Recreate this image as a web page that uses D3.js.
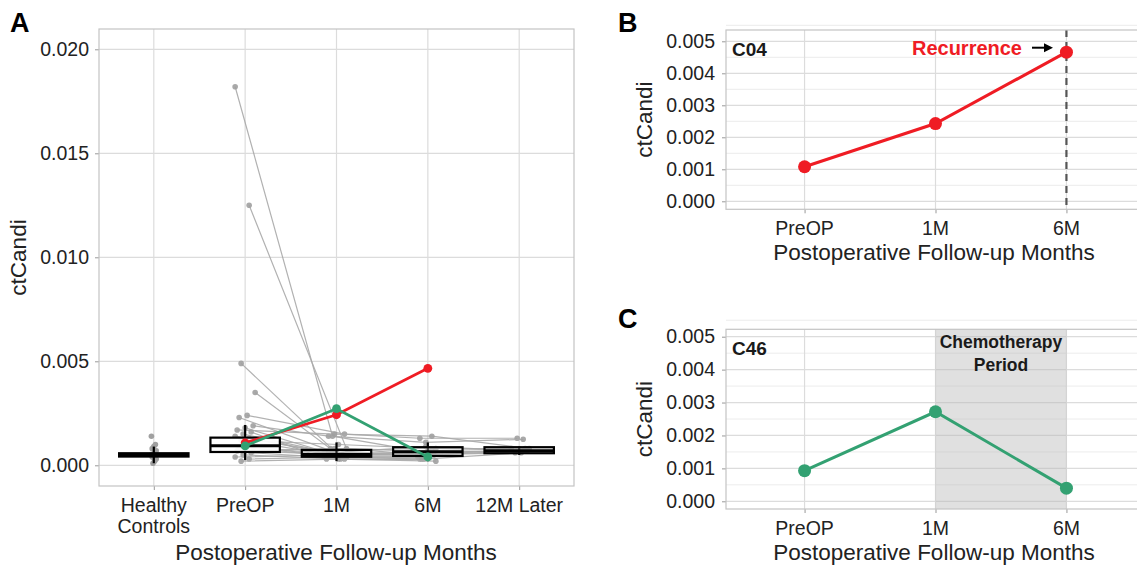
<!DOCTYPE html>
<html><head><meta charset="utf-8">
<script src="https://cdn.jsdelivr.net/npm/d3@7"></script>
<style>
body{margin:0;background:#fff;}
svg{display:block;font-family:"Liberation Sans",Arial,sans-serif;}
</style></head>
<body><svg id="c" width="1137" height="566"></svg>
<script>
// ---------------- DATA ----------------
const catsA = ["Healthy Controls","PreOP","1M","6M","12M Later"];
const catsBC = ["PreOP","1M","6M"];
const yTicksA = [0,0.005,0.010,0.015,0.020];
const yTicksBC = [0,0.001,0.002,0.003,0.004,0.005];

// box statistics per category (lower whisker, q1, median, q3, upper whisker)
const boxLo  = [0.00010,0.00025,0.00020,0.00020,0.00050];
const boxQ1  = [0.00042,0.00064,0.00041,0.00045,0.00058];
const boxMed = [0.00050,0.00094,0.00052,0.00065,0.00070];
const boxQ3  = [0.00058,0.00133,0.00074,0.00087,0.00087];
const boxHi  = [0.00090,0.00194,0.00110,0.00110,0.00090];

const healthy = [0.0014,0.0010,0.0009,0.0008,0.0007,0.0006,0.0005,0.0005,0.0005,0.0004,0.0004,0.0003,0.0002,0.0001];

// patients (grey), one entry per patient
const preOP = [0.0182,0.0125,0.0049,0.0035,0.0024,0.0023,0.0019,0.0018,0.0017,0.0016,0.0015,0.0014,0.0013,0.0012,0.0011,0.0010,0.0009,0.0008,0.0007,0.0007,0.0006,0.0005,0.0004,0.0003,0.0002];
const m1    = [0.0014,0.0008,0.0005,0.0008,0.0015,0.0006,0.0014,0.0004,0.0015,0.0003,0.0005,0.0006,0.0004,0.0010,0.0005,0.0003,0.0004,0.0006,0.0005,0.0008,0.0004,0.0003,0.0005,0.0004,0.0003];
const m6    = [0.0006,0.0005,null,0.0007,0.0013,0.0005,0.0011,0.0004,0.0014,0.0003,null,0.0006,0.0004,0.0008,0.0005,0.0003,null,0.0009,0.0005,0.0007,0.0004,null,0.0006,0.0003,0.0002];
const m12   = [0.0007,null,null,0.0008,0.0013,null,0.00125,null,0.0008,0.0006,null,0.0007,null,0.0008,0.0007,null,null,0.0007,0.0006,null,null,null,0.00075,null,null];

// highlighted patients
const c04 = [0.00108,0.00243,0.00466];
const c46 = [0.00093,0.00272,0.00040];

// ---------------- STYLE ----------------
const RED = "#ef1c24", GREEN = "#33a172";
const GRID = "#dcdcdc", GRIDMINOR = "#ececec", BORDER = "#c4c4c4";
const TXT = "#222";
const TICKFS = 19.5, TITLEFS = 22.5;

const svg = d3.select("#c");

function panelFrame(g, x0, x1, y0, y1){
  g.append("rect").attr("x",x0).attr("y",y0).attr("width",x1-x0).attr("height",y1-y0)
    .attr("fill","#fff");
}
function border(g, x0, x1, y0, y1){
  g.append("rect").attr("x",x0).attr("y",y0).attr("width",x1-x0).attr("height",y1-y0)
    .attr("fill","none").attr("stroke",BORDER).attr("stroke-width",1.2);
}

// ================= PANEL A =================
(function(){
  const L=99,R=574,T=29,B=486;
  const x = d3.scalePoint().domain(catsA).range([L,R]).padding(0.6);
  const y = d3.scaleLinear().domain([0,0.02]).range([465.3,49.3]);
  const g = svg.append("g");
  panelFrame(g,L,R,T,B);
  g.selectAll(".gy").data(yTicksA).join("line").attr("x1",L).attr("x2",R)
    .attr("y1",d=>y(d)).attr("y2",d=>y(d)).attr("stroke",GRID).attr("stroke-width",1.2);
  g.selectAll(".gx").data(catsA).join("line").attr("x1",d=>x(d)).attr("x2",d=>x(d))
    .attr("y1",T).attr("y2",B).attr("stroke",GRID).attr("stroke-width",1.2);

  const ax = g.append("g").attr("transform",`translate(${L},0)`)
    .call(d3.axisLeft(y).tickValues(yTicksA).tickFormat(d3.format(".3f")).tickSize(4).tickPadding(6));
  ax.select(".domain").remove();
  ax.selectAll("line").attr("stroke","#999");
  ax.selectAll("text").attr("font-size",TICKFS).attr("fill",TXT).attr("font-family","Liberation Sans, Arial, sans-serif");
  const bx = g.append("g").attr("transform",`translate(0,${B})`)
    .call(d3.axisBottom(x).tickSize(4).tickFormat(""));
  bx.select(".domain").remove();
  bx.selectAll("line").attr("stroke","#999");
  catsA.forEach(c=>{
    const parts = c==="Healthy Controls" ? ["Healthy","Controls"] : [c];
    parts.forEach((p,i)=>{
      g.append("text").attr("x",x(c)).attr("y",511.5+i*21.5).attr("text-anchor","middle")
        .attr("font-size",TICKFS).attr("fill",TXT).text(p);
    });
  });

  const seriesCats = ["PreOP","1M","6M","12M Later"];
  const grey = preOP.map((v,i)=>[v,m1[i],m6[i],m12[i]]);
  const jit = (i,j)=>(((i*7+j*3)%11)-5)*2;
  const lineG = g.append("g");
  grey.forEach((vals,i)=>{
    const pts = vals.map((v,j)=>v==null?null:[x(seriesCats[j])+jit(i,j), y(v)]).filter(p=>p);
    lineG.append("path").attr("d",d3.line()(pts)).attr("fill","none")
      .attr("stroke","#a8a8a8").attr("stroke-width",1.2).attr("stroke-opacity",0.9);
    lineG.selectAll(null).data(pts).join("circle").attr("cx",p=>p[0]).attr("cy",p=>p[1])
      .attr("r",2.8).attr("fill","#a0a0a0").attr("fill-opacity",0.9);
  });
  g.selectAll(".hc").data(healthy).join("circle")
    .attr("cx",(d,i)=>x(catsA[0])+((i*5)%7-3)*0.8).attr("cy",d=>y(d))
    .attr("r",2.8).attr("fill","#a0a0a0");

  const bw = x.step()*0.76;
  const fillOp = [0.35,0.92,0.15,0.3,0.35];
  catsA.forEach((c,i)=>{
    const cx = x(c);
    g.append("line").attr("x1",cx).attr("x2",cx).attr("y1",y(boxLo[i])).attr("y2",y(boxHi[i]))
      .attr("stroke","#000").attr("stroke-width",2.2);
    g.append("rect").attr("x",cx-bw/2).attr("width",bw).attr("y",y(boxQ3[i]))
      .attr("height",y(boxQ1[i])-y(boxQ3[i])).attr("fill","#fff").attr("fill-opacity",fillOp[i])
      .attr("stroke","#000").attr("stroke-width",2.2);
    g.append("line").attr("x1",cx-bw/2).attr("x2",cx+bw/2).attr("y1",y(boxMed[i])).attr("y2",y(boxMed[i]))
      .attr("stroke","#000").attr("stroke-width",3);
  });

  [[c04,RED],[c46,GREEN]].forEach(([vals,col])=>{
    const pts = vals.map((v,j)=>[x(catsBC[j]),y(v)]);
    g.append("path").attr("d",d3.line()(pts)).attr("fill","none").attr("stroke",col).attr("stroke-width",2.8);
    g.selectAll(null).data(pts).join("circle").attr("cx",p=>p[0]).attr("cy",p=>p[1]).attr("r",4.4).attr("fill",col);
  });

  border(g,L,R,T,B);
  g.append("text").attr("transform",`translate(26,${(T+B)/2}) rotate(-90)`).attr("text-anchor","middle")
    .attr("font-size",TITLEFS).attr("fill",TXT).text("ctCandi");
  g.append("text").attr("x",336).attr("y",560).attr("text-anchor","middle")
    .attr("font-size",TITLEFS).attr("fill",TXT).text("Postoperative Follow-up Months");
  g.append("text").attr("x",10).attr("y",32).attr("font-size",27).attr("font-weight","bold").attr("fill","#000").text("A");
})();

// ================= PANELS B / C =================
function smallPanel(o){
  const L=726,R=1145;
  const {T,B,y0,y5} = o;
  const x = d3.scalePoint().domain(catsBC).range([L,R]).padding(0.6);
  const y = d3.scaleLinear().domain([0,0.005]).range([y0,y5]);
  const g = svg.append("g");
  panelFrame(g,L,R,T,B);
  const minor = d3.range(0,0.0056,0.0005).filter((d,i)=>i%2===1);
  g.selectAll(".gm").data(minor).join("line").attr("x1",L).attr("x2",R)
    .attr("y1",d=>y(d)).attr("y2",d=>y(d)).attr("stroke",GRIDMINOR).attr("stroke-width",1);
  g.selectAll(".gy").data(yTicksBC).join("line").attr("x1",L).attr("x2",R)
    .attr("y1",d=>y(d)).attr("y2",d=>y(d)).attr("stroke",GRID).attr("stroke-width",1.2);
  g.selectAll(".gx").data(catsBC).join("line").attr("x1",d=>x(d)).attr("x2",d=>x(d))
    .attr("y1",T).attr("y2",B).attr("stroke",GRID).attr("stroke-width",1.2);

  if(o.shade){
    g.append("rect").attr("x",x("1M")).attr("width",x("6M")-x("1M")).attr("y",T).attr("height",B-T)
      .attr("fill","#b4b4b4").attr("fill-opacity",0.42);
    g.append("text").attr("x",(x("1M")+x("6M"))/2).attr("y",T+18.5).attr("text-anchor","middle")
      .attr("font-size",17.5).attr("font-weight","bold").attr("fill","#1a1a1a").text("Chemotherapy");
    g.append("text").attr("x",(x("1M")+x("6M"))/2).attr("y",T+42).attr("text-anchor","middle")
      .attr("font-size",17.5).attr("font-weight","bold").attr("fill","#1a1a1a").text("Period");
  }
  if(o.dashed){
    g.append("line").attr("x1",x("6M")).attr("x2",x("6M")).attr("y1",T).attr("y2",B)
      .attr("stroke","#555").attr("stroke-width",2.2).attr("stroke-dasharray","7,5");
  }

  const ax = g.append("g").attr("transform",`translate(${L},0)`)
    .call(d3.axisLeft(y).tickValues(yTicksBC).tickFormat(d3.format(".3f")).tickSize(4).tickPadding(7));
  ax.select(".domain").remove();
  ax.selectAll("line").attr("stroke","#999");
  ax.selectAll("text").attr("font-size",TICKFS).attr("fill",TXT).attr("font-family","Liberation Sans, Arial, sans-serif");
  const bx = g.append("g").attr("transform",`translate(0,${B})`)
    .call(d3.axisBottom(x).tickSize(4).tickFormat(""));
  bx.select(".domain").remove();
  bx.selectAll("line").attr("stroke","#999");
  catsBC.forEach(c=>{
    g.append("text").attr("x",x(c)).attr("y",B+26).attr("text-anchor","middle")
      .attr("font-size",TICKFS).attr("fill",TXT).text(c);
  });

  const pts = o.vals.map((v,j)=>[x(catsBC[j]),y(v)]);
  g.append("path").attr("d",d3.line()(pts)).attr("fill","none").attr("stroke",o.col).attr("stroke-width",3);
  g.selectAll(null).data(pts).join("circle").attr("cx",p=>p[0]).attr("cy",p=>p[1]).attr("r",6.5).attr("fill",o.col);

  border(g,L,R,T,B);
  g.append("text").attr("x",732).attr("y",T+26).attr("font-size",19).attr("font-weight","bold").attr("fill","#1a1a1a").text(o.id);
  g.append("text").attr("transform",`translate(652,${(T+B)/2}) rotate(-90)`).attr("text-anchor","middle")
    .attr("font-size",TITLEFS).attr("fill",TXT).text("ctCandi");
  g.append("text").attr("x",934).attr("y",B+51).attr("text-anchor","middle")
    .attr("font-size",TITLEFS).attr("fill",TXT).text("Postoperative Follow-up Months");
  g.append("text").attr("x",618).attr("y",o.labY).attr("font-size",27).attr("font-weight","bold").attr("fill","#000").text(o.label);

  if(o.recurrence){
    const yy = y(0.0048);
    g.append("text").attr("x",1022).attr("y",yy+7).attr("text-anchor","end")
      .attr("font-size",20).attr("font-weight","bold").attr("fill",RED).text("Recurrence");
    g.append("line").attr("x1",1032).attr("x2",1046).attr("y1",yy).attr("y2",yy).attr("stroke","#000").attr("stroke-width",2);
    g.append("path").attr("d",`M1053,${yy} L1044,${yy-4.5} L1044,${yy+4.5} Z`).attr("fill","#000");
  }
}
smallPanel({T:30,B:209.3,y0:201.3,y5:41.3,vals:c04,col:RED,id:"C04",label:"B",labY:32,dashed:true,recurrence:true});
smallPanel({T:329.3,B:509,y0:501.3,y5:336.7,vals:c46,col:GREEN,id:"C46",label:"C",labY:328,shade:true});
</script></body></html>
